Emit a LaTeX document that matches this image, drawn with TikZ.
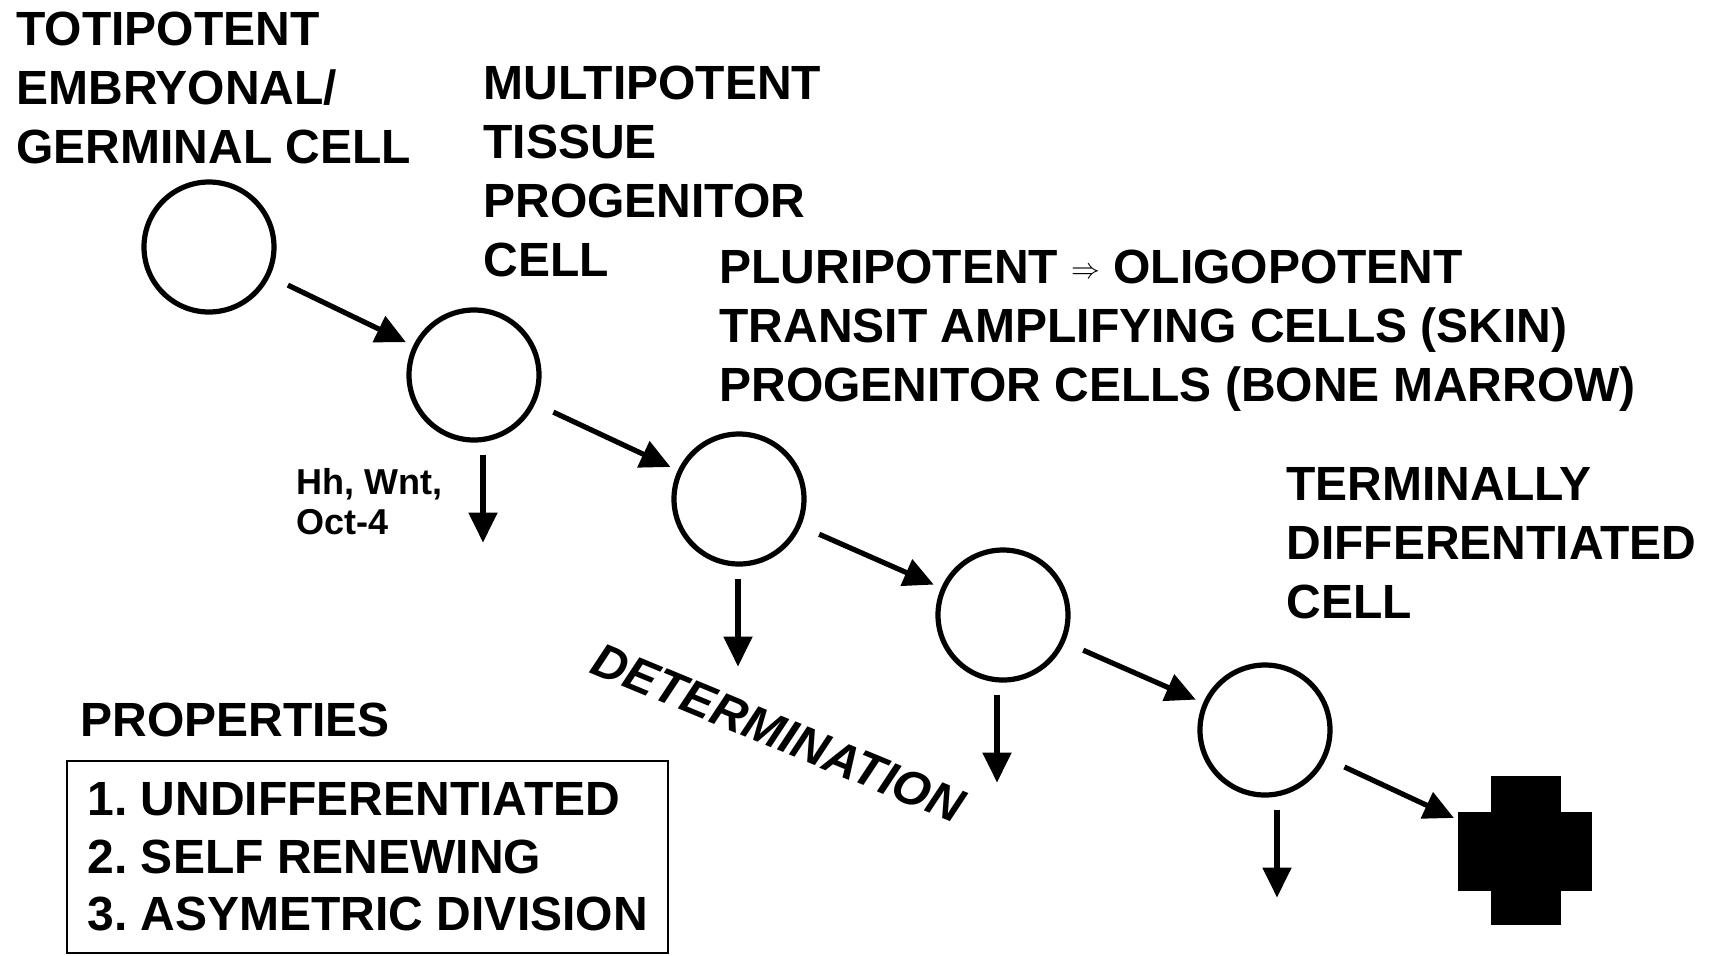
\documentclass[tikz,border=0pt]{standalone}
\usepackage{fontspec}
\setmainfont{Liberation Sans}
\usetikzlibrary{arrows.meta,calc}
\frenchspacing

\begin{document}
\begin{tikzpicture}[x=0.5pt, y=-0.5pt, font=\bfseries\fontsize{24}{29.5}\selectfont,
  cell/.style={circle, draw, line width=2.6pt, minimum size=65pt, inner sep=0pt},
  flow/.style={line width=2.6pt, -{Triangle[length=15pt,width=14pt]}},
  lbl/.style={align=left, anchor=north west, inner sep=0pt},
  blot/.style={fill, inner sep=0pt}]
  \path[use as bounding box, fill=white] (0,0) rectangle (1721,955);
  % cells
  \foreach \i/\x/\y in {1/209/247, 2/474/375, 3/739/499, 4/1003/615, 5/1265/730}
    \node[cell] (c\i) at (\x,\y) {};
  % dead cell
  \node[blot, minimum width=67pt, minimum height=39.5pt] (deadh) at (1525,851) {};
  \node[blot, minimum width=35pt, minimum height=74.5pt] (deadv) at (1526,850) {};
  % lineage
  \foreach \a/\b in {1/2, 2/3, 3/4, 4/5}
    \draw[flow, shorten <=10pt, shorten >=4pt] (c\a) -- (c\b);
  \draw[flow, shorten <=10pt, shorten >=2pt] (c5) -- (deadh);
  % differentiation
  \foreach \i/\dx in {2/9, 3/-1, 4/-6, 5/12} {
    \coordinate (d\i) at ($(c\i.south)+(\dx,100)$);
    \draw[flow, shorten <=6pt] (c\i.south -| d\i) -- (d\i);
  }
  % labels
  \node[lbl] (toti) at (16,12) {TOTIPOTENT\\EMBRYONAL/\\GERMINAL CELL};
  \node[lbl] (multi) at (483,66) {MULTIPOTENT\\TISSUE\\PROGENITOR\\CELL};
  \node[lbl] (pluri) at (719,250) {PLURIPOTENT \raisebox{2.5pt}{\fontsize{15}{15}\selectfont$\Rightarrow$} OLIGOPOTENT\\TRANSIT AMPLIFYING CELLS (SKIN)\\PROGENITOR CELLS (BONE MARROW)};
  \node[lbl] (term) at (1286,467) {TERMINALLY\\DIFFERENTIATED\\CELL};
  \node[lbl, font=\bfseries\fontsize{18}{20}\selectfont] (signals) at (296,468) {Hh, Wnt,\\Oct-4};
  \node[font=\bfseries\itshape\fontsize{24}{29.5}\selectfont, rotate=-22.5, anchor=base, inner sep=0pt] (determ) at (772,748) {DETERMINATION};
  % properties
  \node[lbl] (props) at (80,703) {PROPERTIES};
  \node[draw, line width=1.2pt, anchor=north west, align=left, minimum width=300.5pt, minimum height=96pt, inner sep=0pt, font=\bfseries\fontsize{24}{28.75}\selectfont] (propbox) at (66,760) {1. UNDIFFERENTIATED\\2. SELF RENEWING\\3. ASYMETRIC DIVISION};
\end{tikzpicture}
\end{document}
